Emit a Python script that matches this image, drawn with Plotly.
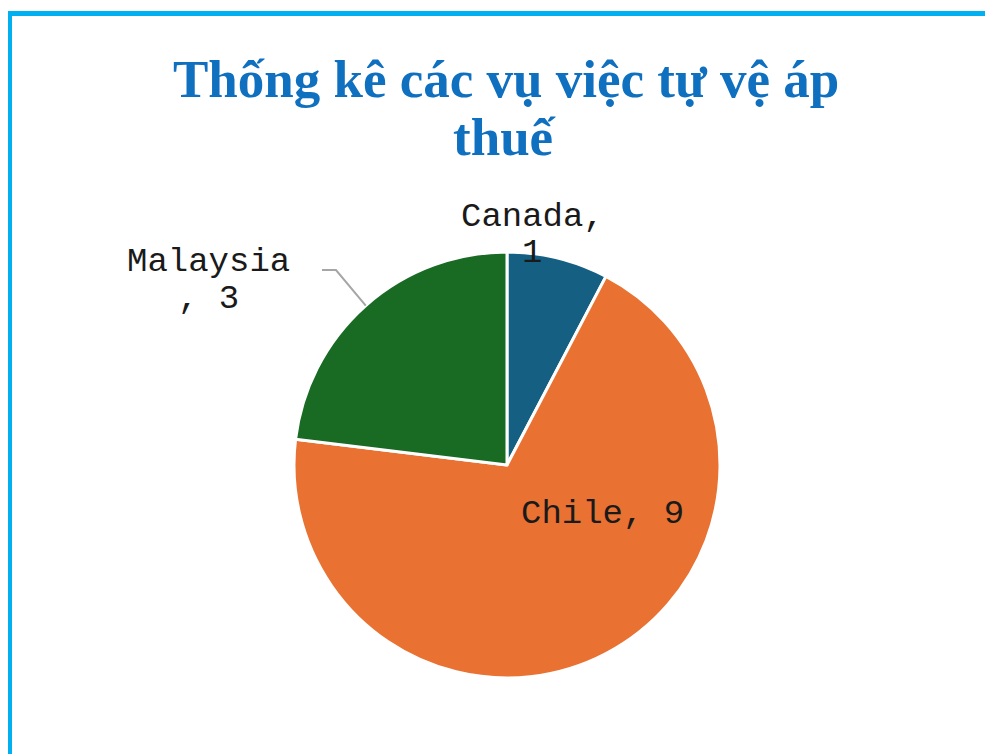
import math
import plotly.graph_objects as go

categories = ["Canada", "Chile", "Malaysia"]
values = [1, 9, 3]
colors = ["#156082", "#E97132", "#196B24"]
title_lines = ["Thống kê các vụ việc tự vệ áp", "thuế"]

# Figure size (the page adds an 8px body margin, so draw in a 985x746 box)
W, H = 985, 746
cx, cy, r = 499, 457, 213          # pie centre / radius in figure pixels

def px(x):
    return x / W

def py(y):
    return 1 - y / H

# label layout (pixel centres of each text line) -- styling, not data
label_lines = {
    "Canada": [("{c},", 524, 209), ("{v}", 524, 245)],
    "Chile": [("{c}, {v}", 594, 506)],
    "Malaysia": [("{c}", 200, 254), (", {v}", 200, 291)],
}
label_font = dict(family="Liberation Mono", size=34, color="#1a1a1a")

fig = go.Figure(go.Pie(
    labels=categories,
    values=values,
    sort=False,
    direction="clockwise",
    rotation=0,
    marker=dict(colors=colors, line=dict(color="white", width=3)),
    textinfo="none",
    showlegend=False,
    hoverinfo="label+value",
    domain=dict(x=[px(cx - r), px(cx + r)], y=[py(cy + r), py(cy - r)]),
    automargin=False,
))

annotations = []
for cat, val in zip(categories, values):
    for tmpl, x, y in label_lines[cat]:
        annotations.append(dict(
            text=tmpl.format(c=cat, v=val), x=px(x), y=py(y), xref="paper", yref="paper",
            xanchor="center", yanchor="middle", showarrow=False, font=label_font))

# title lines
annotations.append(dict(text=title_lines[0], x=px(498), y=py(71), xref="paper", yref="paper",
                        xanchor="center", yanchor="middle", showarrow=False,
                        font=dict(family="Liberation Serif", size=53, color="#0F70C0", weight="bold")))
annotations.append(dict(text=title_lines[1], x=px(497), y=py(129), xref="paper", yref="paper",
                        xanchor="center", yanchor="middle", showarrow=False,
                        font=dict(family="Liberation Serif", size=53, color="#0F70C0", weight="bold")))

# leader line for Malaysia: ends on the pie edge at the slice's mid-angle
total = sum(values)
idx = categories.index("Malaysia")
mid = (sum(values[:idx]) + values[idx] / 2) / total * 2 * math.pi
ex, ey = cx + r * math.sin(mid), cy - r * math.cos(mid)
leader = f"M {px(314)} {py(262)} L {px(328)} {py(262)} L {px(ex)} {py(ey)}"

fig.update_layout(
    width=W, height=H,
    margin=dict(l=0, r=0, t=0, b=0),
    paper_bgcolor="white",
    annotations=annotations,
    shapes=[
        dict(type="line", xref="paper", yref="paper", x0=px(2), x1=px(2), y0=0, y1=py(3),
             line=dict(color="#00B0F0", width=4)),
        dict(type="line", xref="paper", yref="paper", x0=0, x1=1, y0=py(5.5), y1=py(5.5),
             line=dict(color="#00B0F0", width=5)),
        dict(type="path", xref="paper", yref="paper", path=leader,
             line=dict(color="#A6A6A6", width=2)),
    ],
)

fig.write_html("out.html")
